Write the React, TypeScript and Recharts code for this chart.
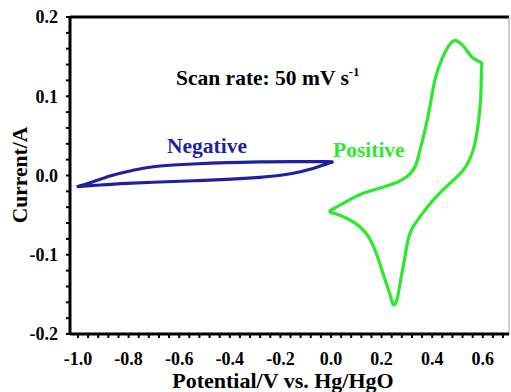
import React from 'react';
import { LineChart, Line, XAxis, YAxis, ReferenceLine } from 'recharts';

// negative electrode loop (blue)
const negPotential = [
  -1.005, -0.94, -0.874, -0.808, -0.742, -0.676, -0.544, -0.412, -0.281, -0.149, -0.017, 0.003,
  -0.017, -0.083, -0.149, -0.215, -0.281, -0.412, -0.544, -0.676, -0.808, -0.913, -1.005
];
const negCurrent = [
  -0.0142, -0.0078, -0.0006, 0.0048, 0.0091, 0.012, 0.0145, 0.0162, 0.0171, 0.0175, 0.0175, 0.0167,
  0.0146, 0.0078, 0.0028, -0.0003, -0.0023, -0.0048, -0.0066, -0.0082, -0.0099, -0.012, -0.0142
];

// positive electrode loop (green)
const posPotential = [
  0.49, 0.515, 0.536, 0.562, 0.592, 0.595, 0.592, 0.582, 0.562, 0.523, 0.47, 0.404, 0.352, 0.312,
  0.292, 0.273, 0.262, 0.25, 0.242, 0.233, 0.207, 0.174, 0.128, 0.062, 0.015, -0.004, 0.02, 0.049,
  0.128, 0.233, 0.299, 0.332, 0.352, 0.372, 0.391, 0.411, 0.437, 0.464, 0.48, 0.49
];
const posCurrent = [
  0.171, 0.166, 0.158, 0.148, 0.143, 0.135, 0.1, 0.066, 0.032, 0.007, -0.01, -0.031, -0.052, -0.073,
  -0.103, -0.136, -0.155, -0.163, -0.16, -0.15, -0.125, -0.094, -0.069, -0.054, -0.048, -0.045, -0.04,
  -0.035, -0.0225, -0.012, -0.0015, 0.011, 0.032, 0.058, 0.087, 0.121, 0.146, 0.163, 0.169, 0.171
];

const xMajorTicks = [-1.0, -0.8, -0.6, -0.4, -0.2, 0.0, 0.2, 0.4, 0.6];
const yMajorTicks = [-0.2, -0.1, 0.0, 0.1, 0.2];

const negData = negPotential.map((x, i) => ({ x, y: negCurrent[i] }));
const posData = posPotential.map((x, i) => ({ x, y: posCurrent[i] }));

// minor tick positions
const xTicks: number[] = [];
for (let i = 0; i <= 42; i++) xTicks.push(Math.round((-1.0 + i * 0.04) * 100) / 100);
const yTicks: number[] = [];
for (let i = 0; i <= 20; i++) yTicks.push(Math.round((-0.2 + i * 0.02) * 100) / 100);

const isMajor = (v: number, majors: number[]) => majors.some((m) => Math.abs(m - v) < 1e-6);

const FONT = '"Liberation Serif", "Times New Roman", serif';
const BLUE = '#1f1fa6';
const GREEN = '#2de82d';

const XTick = ({ x, y, payload }: any) => {
  if (!isMajor(payload.value, xMajorTicks)) return null;
  return (
    <text x={x} y={y} dy="0.71em" textAnchor="middle" fontFamily={FONT} fontWeight="bold" fontSize={18} fill="#000">
      {payload.value.toFixed(1)}
    </text>
  );
};

const YTick = ({ x, y, payload }: any) => {
  if (!isMajor(payload.value, yMajorTicks)) return null;
  return (
    <text x={x} y={y} dy="0.35em" textAnchor="end" fontFamily={FONT} fontWeight="bold" fontSize={18} fill="#000">
      {payload.value.toFixed(1)}
    </text>
  );
};

export default function App() {
  return (
    <div style={{ position: 'absolute', left: 0, top: 0, width: 511, height: 392, background: '#fff' }}>
      <LineChart width={511} height={392} margin={{ top: 17, right: 2, bottom: 0, left: 0 }}>
        <XAxis
          dataKey="x"
          type="number"
          height={58}
          domain={[-1.0316, 0.7036]}
          allowDataOverflow
          ticks={xTicks}
          interval={0}
          tick={<XTick />}
          tickSize={4}
          tickMargin={14}
          axisLine={{ stroke: '#000', strokeWidth: 3 }}
          tickLine={{ stroke: '#000', strokeWidth: 2 }}
        />
        <YAxis
          dataKey="y"
          type="number"
          width={70}
          domain={[-0.2, 0.2]}
          allowDataOverflow
          ticks={yTicks}
          interval={0}
          tick={<YTick />}
          tickSize={4}
          tickMargin={8}
          axisLine={{ stroke: '#000', strokeWidth: 3 }}
          tickLine={{ stroke: '#000', strokeWidth: 2 }}
        />
        <ReferenceLine y={0.2} stroke="#000" strokeWidth={3} />
        <ReferenceLine x={0.7036} stroke="#a0a0a0" strokeWidth={1} />
        <Line
          data={negData}
          dataKey="y"
          type="natural"
          stroke={BLUE}
          strokeWidth={3.2}
          dot={false}
          isAnimationActive={false}
        />
        <Line
          data={posData}
          dataKey="y"
          type="natural"
          stroke={GREEN}
          strokeWidth={3.2}
          dot={false}
          isAnimationActive={false}
        />
      </LineChart>
      <svg width={511} height={392} style={{ position: 'absolute', left: 0, top: 0, pointerEvents: 'none' }}>
        <text x={176} y={85} fontFamily={FONT} fontWeight="bold" fontSize={21.5} fill="#000">
          Scan rate: 50 mV s
          <tspan dy={-9} fontSize={13}>-1</tspan>
        </text>
        <text x={167} y={153} fontFamily={FONT} fontWeight="bold" fontSize={21.5} fill={BLUE}>
          Negative
        </text>
        <text x={333} y={157} fontFamily={FONT} fontWeight="bold" fontSize={21.5} fill={GREEN}>
          Positive
        </text>
        <text
          x={27}
          y={175}
          transform="rotate(-90, 27, 175)"
          textAnchor="middle"
          fontFamily={FONT}
          fontWeight="bold"
          fontSize={21.5}
          fill="#000"
        >
          Current/A
        </text>
        <text x={283} y={388} textAnchor="middle" fontFamily={FONT} fontWeight="bold" fontSize={22} fill="#000">
          Potential/V vs. Hg/HgO
        </text>
      </svg>
    </div>
  );
}
